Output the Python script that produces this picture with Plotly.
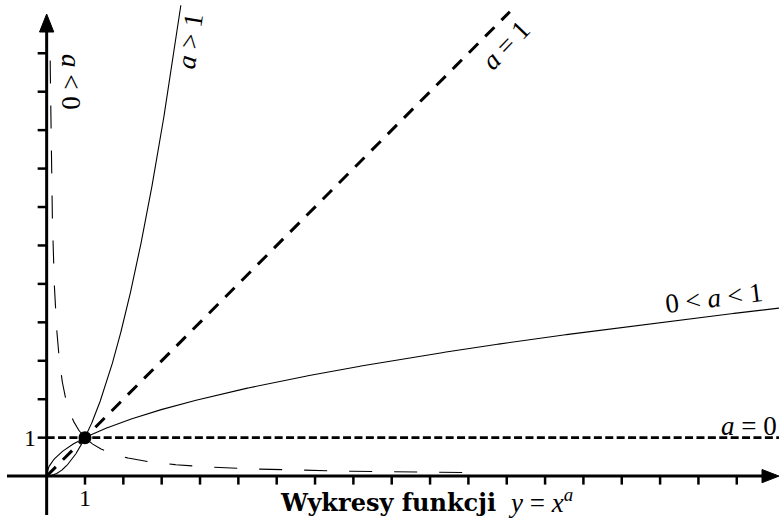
import numpy as np
import plotly.graph_objects as go

# ---- data ----
exponents = [2.0, 1.0, 0.5, 0.0, -1.0]
curve_names = ["a > 1", "a = 1", "0 < a < 1", "a = 0", "a < 0"]
x_start = [0.0, 0.0, 0.0, 0.0, 1.0 / 11.0]
x_end = [3.5, 12.08, 19.1, 19.1, 11.05]
x_ticks = list(range(1, 19))
y_ticks = list(range(1, 12))
tick_label = "1"
common_point = (1.0, 1.0)
title_text = "Wykresy funkcji"
title_math = "<i>y</i> = <i>x</i><sup><i>a</i></sup>"

# ---- geometry (pixel mapping of the frame) ----
W, H = 779, 521
ux, uy = 38.34, 38.44          # pixels per unit
ox, oy = 46.66, 476.1          # pixel position of origin
xr = [-ox / ux, (W - ox) / ux]
yr = [-(H - oy) / uy, oy / uy]

def X(p):  # pixel x -> data
    return (p - ox) / ux

def Y(p):  # pixel y -> data
    return (oy - p) / uy

fig = go.Figure()
FONT = "Liberation Serif"

# axes lines
fig.add_trace(go.Scatter(x=[X(7), X(764)], y=[0, 0], mode="lines",
                         line=dict(color="black", width=3), hoverinfo="skip"))
fig.add_trace(go.Scatter(x=[0, 0], y=[Y(515), Y(30)], mode="lines",
                         line=dict(color="black", width=3), hoverinfo="skip"))
# arrow heads
fig.add_trace(go.Scatter(x=[X(762), X(779), X(762), X(762)],
                         y=[Y(469.5), 0, Y(482.7), Y(469.5)],
                         mode="lines", fill="toself", fillcolor="black",
                         line=dict(color="black", width=1), hoverinfo="skip"))
fig.add_trace(go.Scatter(x=[X(39.5), 0, X(53.8), X(39.5)],
                         y=[Y(32), Y(14), Y(32), Y(32)],
                         mode="lines", fill="toself", fillcolor="black",
                         line=dict(color="black", width=1), hoverinfo="skip"))

# ticks
tx, ty = [], []
for t in x_ticks:
    tx += [t, t, None]
    ty += [0, -8.5 / uy, None]
for t in y_ticks:
    tx += [-9 / ux, 0, None]
    ty += [t, t, None]
fig.add_trace(go.Scatter(x=tx, y=ty, mode="lines",
                         line=dict(color="black", width=2.5), hoverinfo="skip"))

# curves
styles = {
    "a > 1": dict(color="black", width=1.1),
    "a = 1": dict(color="black", width=3, dash="13px,10px"),
    "0 < a < 1": dict(color="black", width=1.1),
    "a = 0": dict(color="black", width=2.6, dash="8px,3.4px"),
    "a < 0": dict(color="black", width=1.1, dash="23px,22px"),
}
for a, name, x0, x1 in zip(exponents, curve_names, x_start, x_end):
    if a < 0:
        # drawn as two pieces starting at the common point (1,1)
        for xa, xb in [(1.0, x0), (1.0, x1)]:
            xs = np.linspace(xa, xb, 600)
            fig.add_trace(go.Scatter(x=xs, y=xs ** a, mode="lines",
                                     line=styles[name], hoverinfo="skip"))
    else:
        xs = np.linspace(x0, x1, 800)
        fig.add_trace(go.Scatter(x=xs, y=xs ** a, mode="lines",
                                 line=styles[name], hoverinfo="skip"))

# common point
fig.add_trace(go.Scatter(x=[common_point[0]], y=[common_point[1]], mode="markers",
                         marker=dict(color="black", size=13), hoverinfo="skip"))

# labels
def lab(text, px, py, angle=0, size=27, xanchor="center", family=FONT):
    fig.add_annotation(x=X(px), y=Y(py), text=text, showarrow=False,
                       textangle=angle, xanchor=xanchor, yanchor="middle",
                       font=dict(family=family, size=size, color="black"))

lab("<i>a</i> &lt; 0", 71, 82, angle=90)
lab("<i>a</i> &gt; 1", 190, 41, angle=-81)
lab("<i>a</i> = 1", 506, 45, angle=-46)
lab("0 &lt; <i>a</i> &lt; 1", 714, 298, angle=-7)
lab("<i>a</i> = 0", 719, 426, xanchor="left")
lab(tick_label, 85, 498, size=24)
lab(tick_label, 30, 438, size=24)
lab("<b>" + title_text + "</b>", 498, 502, size=24, xanchor="right",
    family="DejaVu Serif")
lab(title_math, 506, 501, size=27, xanchor="left")

fig.update_layout(
    width=W, height=H, margin=dict(l=0, r=0, t=0, b=0),
    paper_bgcolor="white", plot_bgcolor="white", showlegend=False,
    xaxis=dict(range=xr, visible=False, fixedrange=True),
    yaxis=dict(range=yr, visible=False, fixedrange=True),
)
fig.write_html("out.html", config={"displayModeBar": False},
               post_script="document.body.style.margin='0';document.body.style.padding='0';")
